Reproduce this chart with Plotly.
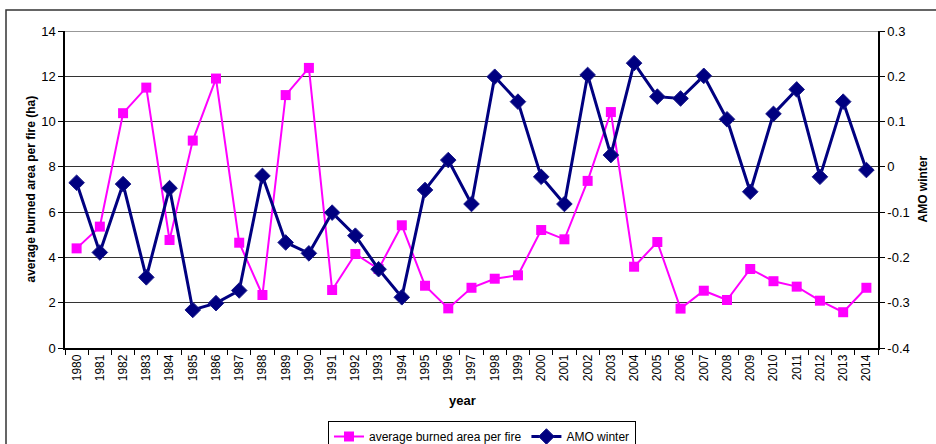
import plotly.graph_objects as go

years = [str(y) for y in range(1980, 2015)]
burned_area = [4.4, 5.36, 10.37, 11.5, 4.77, 9.16, 11.9, 4.65, 2.34, 11.17,
               12.37, 2.56, 4.15, 3.49, 5.42, 2.75, 1.75, 2.66, 3.06, 3.21,
               5.21, 4.8, 7.38, 10.42, 3.59, 4.68, 1.74, 2.53, 2.12, 3.49,
               2.95, 2.71, 2.09, 1.58, 2.66]
amo_winter = [-0.035, -0.189, -0.038, -0.244, -0.047, -0.316, -0.301, -0.273, -0.02, -0.167,
              -0.191, -0.101, -0.152, -0.226, -0.288, -0.051, 0.015, -0.082, 0.199, 0.144,
              -0.022, -0.082, 0.203, 0.026, 0.229, 0.155, 0.151, 0.201, 0.105, -0.055,
              0.117, 0.171, -0.022, 0.144, -0.007]
left_ticks = [0, 2, 4, 6, 8, 10, 12, 14]
right_ticks = [0.3, 0.2, 0.1, 0, -0.1, -0.2, -0.3, -0.4]
right_tick_text = ["0.3", "0.2", "0.1", "0", "-0.1", "-0.2", "-0.3", "-0.4"]

FONT = "Arial, Liberation Sans, sans-serif"

fig = go.Figure()
fig.add_trace(go.Scatter(
    x=years, y=burned_area, name="average burned area per fire",
    mode="lines+markers",
    line=dict(color="#FF00FF", width=2),
    marker=dict(symbol="square", size=10, color="#FF00FF"),
))
fig.add_trace(go.Scatter(
    x=years, y=amo_winter, name="AMO winter", yaxis="y2",
    mode="lines+markers",
    line=dict(color="#000080", width=3),
    marker=dict(symbol="diamond", size=12, color="#000080",
                line=dict(color="#1a1a8a", width=1)),
))

fig.update_layout(
    width=936, height=444,
    margin=dict(l=65, r=58, t=31, b=96, autoexpand=False),
    paper_bgcolor="white", plot_bgcolor="white",
    font=dict(family=FONT, size=12, color="black"),
    showlegend=True,
    legend=dict(orientation="h", x=(328 - 65) / 813, xanchor="left",
                y=(348 - 421) / 317, yanchor="top",
                bordercolor="black", borderwidth=1, font=dict(size=12),
                itemwidth=30, tracegroupgap=0),
    xaxis=dict(type="category", range=[-0.5, 34.5], tickangle=-90,
               tickson="boundaries", ticks="outside", ticklen=5, tickcolor="black",
               showline=True, linecolor="black", linewidth=1.5,
               showgrid=False, tickfont=dict(size=12), zeroline=False),
    yaxis=dict(range=[0, 14], tickvals=left_ticks, ticks="outside", ticklen=5,
               tickcolor="black", showline=True, linecolor="black", linewidth=1.5,
               showgrid=True, gridcolor="#333333", gridwidth=1, zeroline=False,
               tickfont=dict(size=13)),
    yaxis2=dict(range=[-0.4, 0.3], overlaying="y", side="right",
                tickvals=right_ticks, ticktext=right_tick_text,
                ticks="outside", ticklen=5, tickcolor="black",
                showline=True, linecolor="black", linewidth=1.5,
                showgrid=False, zeroline=False, tickfont=dict(size=13)),
    annotations=[
        dict(text="<b>average burned area per fire (ha)</b>", xref="paper", yref="paper",
             x=(30 - 65) / 813, y=0.5, textangle=-90, showarrow=False,
             xanchor="center", yanchor="middle", font=dict(size=12)),
        dict(text="<b>AMO winter</b>", xref="paper", yref="paper",
             x=(922 - 65) / 813, y=0.5, textangle=-90, showarrow=False,
             xanchor="center", yanchor="middle", font=dict(size=12)),
        dict(text="<b>year</b>", xref="paper", yref="paper",
             x=(462 - 65) / 813, y=(348 - 400) / 317, showarrow=False,
             xanchor="center", yanchor="middle", font=dict(size=13)),
    ],
    shapes=[
        dict(type="rect", xref="paper", yref="paper",
             x0=(6 - 65) / 813, x1=(945 - 65) / 813,
             y0=(348 - 460) / 317, y1=(348 - 10) / 317,
             line=dict(color="#333333", width=1.5), fillcolor="rgba(0,0,0,0)"),
        dict(type="line", xref="paper", yref="y", x0=0, x1=1, y0=14, y1=14,
             line=dict(color="#333333", width=1)),
    ],
)

fig.write_html("out.html", config={"displayModeBar": False},
               post_script="document.body.style.margin='0';document.body.style.overflow='hidden';")
